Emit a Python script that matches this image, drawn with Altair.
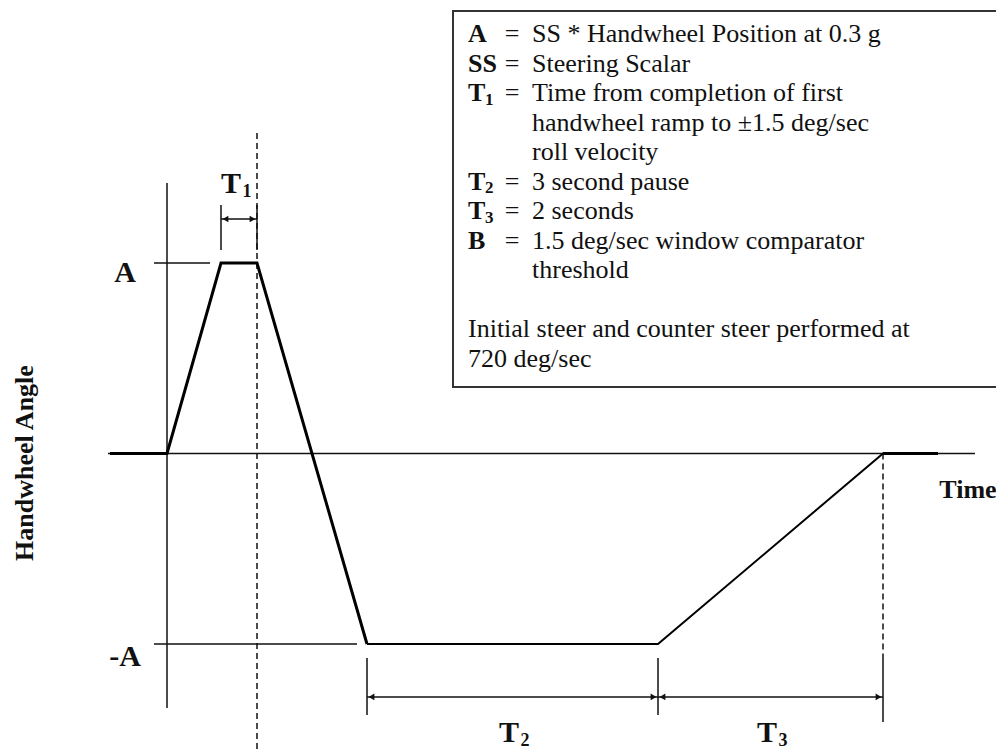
import altair as alt
import pandas as pd

# ---------------- data (time in diagram units, angle in units of A) ----------------
# first steer + counter steer (drawn heavy)
steer_t = [-0.57, 0.0, 0.54, 0.90, 2.00]
steer_a = [0, 0, 1, 1, -1]
# pause + return ramp
return_t = [2.00, 4.91, 7.16, 7.71]
return_a = [-1, -1, 0, 0]

# key instants
t_hold_start = 0.54
t_hold_end = 0.90
t_pause_start = 2.00
t_pause_end = 4.91
t_return_end = 7.16

# legend content
legend_keys = ["A", "SS", "T", "", "", "T", "T", "B", ""]
legend_subs = ["", "", "1", "", "", "2", "3", "", ""]
legend_eq = ["=", "=", "=", "", "", "=", "=", "=", ""]
legend_vals = [
    "SS * Handwheel Position at 0.3 g",
    "Steering Scalar",
    "Time from completion of first",
    "handwheel ramp to \u00b11.5 deg/sec",
    "roll velocity",
    "3 second pause",
    "2 seconds",
    "1.5 deg/sec window comparator",
    "threshold",
]
note_lines = ["Initial steer and counter steer performed at", "720 deg/sec"]

level_labels = ["A", "-A"]
level_values = [1, -1]
interval_labels = ["T", "T", "T"]
interval_subs = ["1", "2", "3"]

FONT = "Liberation Serif"

# ---------------- scales ----------------
X = alt.Scale(domain=[-1.59, 8.29], nice=False, zero=False)
Y = alt.Scale(domain=[-1.5617, 2.3386], nice=False, zero=False)


def xq(f="t"):
    return alt.X(f"{f}:Q", scale=X, axis=None)


def yq(f="a"):
    return alt.Y(f"{f}:Q", scale=Y, axis=None)


def rules(rows, width=1.5, color="#111", dash=None):
    df = pd.DataFrame(rows, columns=["t", "a", "t2", "a2"])
    kw = dict(stroke=color, strokeWidth=width)
    if dash:
        kw["strokeDash"] = dash
    return alt.Chart(df).mark_rule(**kw).encode(
        x=xq("t"), y=yq("a"), x2="t2:Q", y2="a2:Q"
    )


def texts(rows, size, weight="normal", align="left", angle=0, baseline="middle"):
    df = pd.DataFrame(rows, columns=["t", "a", "label"])
    kw = dict(font=FONT, fontSize=size, fontWeight=weight, align=align,
              baseline=baseline, color="#111")
    if angle:
        kw["angle"] = angle
    return alt.Chart(df).mark_text(**kw).encode(
        x=xq("t"), y=yq("a"), text="label:N"
    )


def heads(rows, shape):
    df = pd.DataFrame(rows, columns=["t", "a"])
    return alt.Chart(df).mark_point(shape=shape, filled=True, size=45,
                                    color="#111", opacity=1).encode(
        x=xq("t"), y=yq("a")
    )


layers = []

# legend box
box_t0, box_t1, box_a0, box_a1 = 2.86, 8.34, 0.349, 2.323
layers.append(
    alt.Chart(pd.DataFrame({"t": [box_t0], "t2": [box_t1], "a": [box_a1], "a2": [box_a0]}))
    .mark_rect(fill="white", stroke="#333", strokeWidth=2)
    .encode(x=xq("t"), x2="t2:Q", y=yq("a"), y2="a2:Q")
)

# axes
ax_a_top, ax_a_bot = 1.42, -1.336
layers.append(rules([
    (-0.59, 0, 8.08, 0),               # time axis
    (0, ax_a_top, 0, ax_a_bot),        # angle axis
    (-0.13, 1, 0.43, 1),               # A level tick
    (-0.13, -1, 1.90, -1),             # -A level tick
], width=1.5))

# dimension ticks
t1_lo, t1_hi, t1_arrow = 1.068, 1.304, 1.231
b_lo, b_hi, b_arrow = -1.373, -1.073, -1.278
layers.append(rules([
    (t_hold_start, t1_lo, t_hold_start, t1_hi),
    (t_hold_end, t1_lo, t_hold_end, t1_hi),
    (t_pause_start, b_hi, t_pause_start, b_lo),
    (t_pause_end, b_hi, t_pause_end, b_lo),
    (t_return_end, -1.068, t_return_end, -1.409),
], width=1.5))

# dashed markers
layers.append(rules([
    (t_hold_end, 1.682, t_hold_end, -1.562),
    (t_return_end, 0, t_return_end, -1.068),
], width=1.5, dash=[6, 4]))

# dimension arrows
layers.append(rules([
    (t_hold_start, t1_arrow, t_hold_end, t1_arrow),
    (t_pause_start, b_arrow, t_pause_end, b_arrow),
    (t_pause_end, b_arrow, t_return_end, b_arrow),
], width=1.5))
hd = 0.045
layers.append(heads([(t_hold_start + hd, t1_arrow), (t_pause_start + hd, b_arrow),
                     (t_pause_end + hd, b_arrow)], "triangle-left"))
layers.append(heads([(t_hold_end - hd, t1_arrow), (t_pause_end - hd, b_arrow),
                     (t_return_end - hd, b_arrow)], "triangle-right"))

# handwheel profile
layers.append(
    alt.Chart(pd.DataFrame({"t": steer_t, "a": steer_a, "o": range(len(steer_t))}))
    .mark_line(color="#000", strokeWidth=3)
    .encode(x=xq("t"), y=yq("a"), order="o:Q")
)
layers.append(
    alt.Chart(pd.DataFrame({"t": return_t, "a": return_a, "o": range(len(return_t))}))
    .mark_line(color="#000", strokeWidth=2)
    .encode(x=xq("t"), y=yq("a"), order="o:Q")
)
layers.append(rules([(return_t[-2], 0, return_t[-1], 0)], width=3, color="#000"))

# level labels
layers.append(texts([(-0.42, v + (0.0 if v > 0 else -0.07) - (0.05 if v > 0 else 0), s)
                     for s, v in zip(level_labels, level_values)],
                    30, "bold", align="center"))

# interval labels
int_pos = [(0.64, 1.415), (3.42, -1.468), (6.0, -1.468)]
layers.append(texts([(t, a, s) for (t, a), s in zip(int_pos, interval_labels)],
                    30, "bold", align="center"))
layers.append(texts([(t + 0.16, a - 0.04, s) for (t, a), s in zip(int_pos, interval_subs)],
                    18, "bold", align="center"))

# axis titles
layers.append(texts([(8.01, -0.192, "Time")], 26, "bold", align="center"))
layers.append(texts([(-1.42, -0.05, "Handwheel Angle")], 26, "bold",
                    align="center", angle=270))

# legend text
line0, step = 2.202, 0.1549
key_t, eq_t, val_t = 3.01, 3.45, 3.65
key_rows, sub_rows, eq_rows, val_rows = [], [], [], []
for i, (k, s, e, v) in enumerate(zip(legend_keys, legend_subs, legend_eq, legend_vals)):
    a = line0 - i * step
    if k:
        key_rows.append((key_t, a, k))
    if s:
        sub_rows.append((key_t + 0.17, a - 0.035, s))
    if e:
        eq_rows.append((eq_t, a, e))
    val_rows.append((val_t, a, v))
note_rows = [(key_t, line0 - (len(legend_vals) + 1 + j) * step, s)
             for j, s in enumerate(note_lines)]

layers.append(texts(key_rows, 26, "bold"))
layers.append(texts(sub_rows, 17, "bold"))
layers.append(texts(eq_rows, 26, align="center"))
layers.append(texts(val_rows, 26))
layers.append(texts(note_rows, 26))

chart = (
    alt.layer(*layers)
    .properties(width=988, height=743, padding=0, autosize=alt.AutoSizeParams(type="none"))
    .configure_view(stroke=None)
)

chart.save("out.html", embed_options={"renderer": "svg", "actions": False})
